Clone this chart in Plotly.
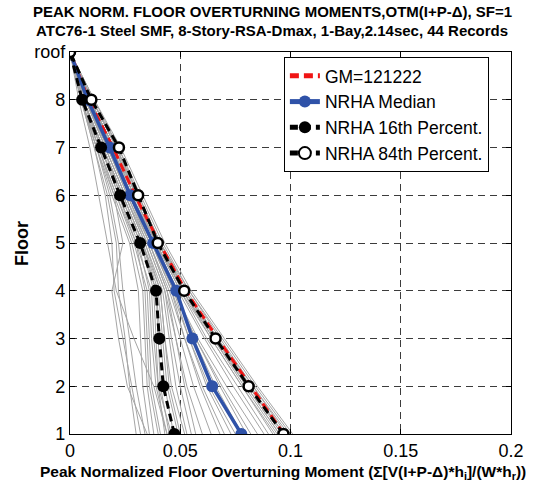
import plotly.graph_objects as go

# Floor levels: 1..8 plus roof (plotted at 9)
floors = [1, 2, 3, 4, 5, 6, 7, 8, 9]
floor_labels = ["1", "2", "3", "4", "5", "6", "7", "8", "roof"]

# Summary curves (floor 1 -> roof)
gm_121222 = [0.097, 0.082, 0.067, 0.0525, 0.0405, 0.0295, 0.0195, 0.0085, 0.0]
nrha_median = [0.0777, 0.0645, 0.0555, 0.0482, 0.0377, 0.0273, 0.0180, 0.0080, 0.0]
nrha_p16 = [0.0473, 0.0423, 0.0405, 0.0390, 0.0318, 0.0227, 0.0141, 0.0055, 0.0]
nrha_p84 = [0.0968, 0.0810, 0.0660, 0.0518, 0.0398, 0.0309, 0.0222, 0.0097, 0.0]

# Individual record curves (floor 1 -> floor 8; roof is zero)
rec01 = [0.097, 0.082, 0.067, 0.052, 0.040, 0.030, 0.020, 0.009]
rec02 = [0.100, 0.084, 0.069, 0.054, 0.041, 0.031, 0.021, 0.010]
rec03 = [0.095, 0.080, 0.065, 0.051, 0.040, 0.030, 0.021, 0.010]
rec04 = [0.098, 0.083, 0.068, 0.054, 0.042, 0.032, 0.022, 0.011]
rec05 = [0.093, 0.078, 0.064, 0.050, 0.039, 0.029, 0.019, 0.009]
rec06 = [0.101, 0.085, 0.070, 0.055, 0.043, 0.033, 0.023, 0.011]
rec07 = [0.096, 0.081, 0.066, 0.052, 0.041, 0.031, 0.022, 0.010]
rec08 = [0.094, 0.079, 0.065, 0.051, 0.040, 0.030, 0.020, 0.009]
rec09 = [0.099, 0.083, 0.067, 0.053, 0.041, 0.030, 0.020, 0.009]
rec10 = [0.092, 0.078, 0.064, 0.051, 0.040, 0.030, 0.021, 0.010]
rec11 = [0.097, 0.081, 0.066, 0.051, 0.039, 0.029, 0.020, 0.009]
rec12 = [0.095, 0.080, 0.066, 0.052, 0.041, 0.031, 0.021, 0.010]
rec13 = [0.090, 0.076, 0.062, 0.050, 0.039, 0.029, 0.019, 0.009]
rec14 = [0.088, 0.074, 0.061, 0.049, 0.038, 0.028, 0.019, 0.009]
rec15 = [0.075, 0.063, 0.054, 0.046, 0.037, 0.027, 0.017, 0.008]
rec16 = [0.073, 0.062, 0.054, 0.047, 0.038, 0.028, 0.018, 0.008]
rec17 = [0.070, 0.060, 0.052, 0.045, 0.036, 0.026, 0.017, 0.007]
rec18 = [0.068, 0.059, 0.052, 0.046, 0.037, 0.027, 0.017, 0.008]
rec19 = [0.085, 0.071, 0.058, 0.047, 0.037, 0.027, 0.018, 0.008]
rec20 = [0.064, 0.056, 0.050, 0.044, 0.036, 0.027, 0.017, 0.007]
rec21 = [0.082, 0.069, 0.057, 0.047, 0.038, 0.028, 0.018, 0.008]
rec22 = [0.060, 0.053, 0.048, 0.043, 0.035, 0.025, 0.016, 0.007]
rec23 = [0.078, 0.066, 0.056, 0.048, 0.039, 0.028, 0.018, 0.008]
rec24 = [0.057, 0.052, 0.048, 0.044, 0.036, 0.027, 0.017, 0.008]
rec25 = [0.080, 0.068, 0.057, 0.047, 0.038, 0.028, 0.018, 0.008]
rec26 = [0.055, 0.050, 0.046, 0.043, 0.035, 0.026, 0.017, 0.007]
rec27 = [0.053, 0.048, 0.045, 0.042, 0.034, 0.025, 0.016, 0.007]
rec28 = [0.052, 0.046, 0.043, 0.041, 0.033, 0.024, 0.015, 0.006]
rec29 = [0.050, 0.045, 0.043, 0.041, 0.034, 0.025, 0.016, 0.007]
rec30 = [0.049, 0.044, 0.042, 0.040, 0.033, 0.024, 0.015, 0.006]
rec31 = [0.047, 0.043, 0.041, 0.039, 0.032, 0.023, 0.014, 0.006]
rec32 = [0.046, 0.040, 0.039, 0.038, 0.032, 0.023, 0.015, 0.006]
rec33 = [0.045, 0.041, 0.040, 0.039, 0.033, 0.024, 0.015, 0.006]
rec34 = [0.044, 0.039, 0.037, 0.036, 0.031, 0.022, 0.014, 0.006]
rec35 = [0.043, 0.040, 0.038, 0.037, 0.030, 0.021, 0.013, 0.005]
rec36 = [0.041, 0.037, 0.036, 0.035, 0.029, 0.021, 0.013, 0.005]
rec37 = [0.040, 0.036, 0.035, 0.034, 0.030, 0.022, 0.014, 0.006]
rec38 = [0.038, 0.035, 0.034, 0.033, 0.028, 0.020, 0.012, 0.005]
rec39 = [0.036, 0.033, 0.032, 0.031, 0.027, 0.019, 0.012, 0.005]
rec40 = [0.034, 0.030, 0.027, 0.024, 0.022, 0.018, 0.012, 0.005]
rec41 = [0.032, 0.028, 0.024, 0.020, 0.019, 0.016, 0.011, 0.005]
rec42 = [0.030, 0.027, 0.025, 0.022, 0.021, 0.017, 0.011, 0.005]
rec43 = [0.035, 0.026, 0.022, 0.019, 0.024, 0.020, 0.013, 0.006]
rec44 = [0.044, 0.038, 0.029, 0.021, 0.017, 0.013, 0.009, 0.004]

records = [rec01, rec02, rec03, rec04, rec05, rec06, rec07, rec08, rec09, rec10,
           rec11, rec12, rec13, rec14, rec15, rec16, rec17, rec18, rec19, rec20,
           rec21, rec22, rec23, rec24, rec25, rec26, rec27, rec28, rec29, rec30,
           rec31, rec32, rec33, rec34, rec35, rec36, rec37, rec38, rec39, rec40,
           rec41, rec42, rec43, rec44]

x_ticks = [0, 0.05, 0.1, 0.15, 0.2]
x_tick_labels = ["0", "0.05", "0.1", "0.15", "0.2"]

title_line1 = "PEAK NORM. FLOOR OVERTURNING MOMENTS,OTM(I+P-Δ), SF=1"
title_line2 = "ATC76-1 Steel SMF, 8-Story-RSA-Dmax, 1-Bay,2.14sec, 44 Records"
x_title = "Peak Normalized Floor Overturning Moment (Σ[V(I+P-Δ)*h<sub>i</sub>]/(W*h<sub>r</sub>))"
y_title = "Floor"

FONT = "Liberation Sans, Arial, sans-serif"

fig = go.Figure()

for rec in records:
    fig.add_trace(go.Scatter(
        x=rec + [0.0], y=floors, mode="lines",
        line=dict(color="rgb(165,165,165)", width=1),
        showlegend=False, hoverinfo="skip"))

fig.add_trace(go.Scatter(
    x=gm_121222, y=floors, mode="lines", name="GM=121222",
    line=dict(color="rgb(240,20,20)", width=3, dash="9px,5px")))

fig.add_trace(go.Scatter(
    x=nrha_median, y=floors, mode="lines+markers", name="NRHA Median",
    line=dict(color="rgb(47,82,168)", width=3.5),
    marker=dict(color="rgb(47,82,168)", size=12, symbol="circle")))

fig.add_trace(go.Scatter(
    x=nrha_p16, y=floors, mode="lines+markers", name="NRHA 16th Percent.",
    line=dict(color="black", width=3, dash="8px,5px"),
    marker=dict(color="black", size=12, symbol="circle")))

fig.add_trace(go.Scatter(
    x=nrha_p84, y=floors, mode="lines+markers", name="NRHA 84th Percent.",
    line=dict(color="black", width=3, dash="8px,5px"),
    marker=dict(color="white", size=10, symbol="circle",
                line=dict(color="black", width=2.5))))

axis_common = dict(
    showline=True, linecolor="black", linewidth=1.2, mirror="ticks",
    ticks="inside", ticklen=5, tickcolor="black",
    showgrid=True, gridcolor="rgb(60,60,60)", gridwidth=1, griddash="7px,5px",
    zeroline=False, tickfont=dict(family=FONT, size=18, color="black"),
)

fig.update_xaxes(range=[0, 0.2], tickvals=x_ticks, ticktext=x_tick_labels, **axis_common)
fig.update_yaxes(range=[1, 9], tickvals=floors, ticktext=floor_labels, **axis_common)

# Titles placed as annotations (paper coordinates of the 441x382 plot area)
fig.add_annotation(text=f"<b>{title_line1}</b>", xref="paper", yref="paper",
                   x=0.459, y=1.105, xanchor="center", yanchor="middle", showarrow=False,
                   font=dict(family=FONT, size=15, color="black"))
fig.add_annotation(text=f"<b>{title_line2}</b>", xref="paper", yref="paper",
                   x=0.459, y=1.055, xanchor="center", yanchor="middle", showarrow=False,
                   font=dict(family=FONT, size=15, color="black"))
fig.add_annotation(text=f"<b>{x_title}</b>", xref="paper", yref="paper",
                   x=0.483, y=-0.1, xanchor="center", yanchor="middle", showarrow=False,
                   font=dict(family=FONT, size=15.5, color="black"))
fig.add_annotation(text=f"<b>{y_title}</b>", xref="paper", yref="paper",
                   x=-0.109, y=0.5, xanchor="center", yanchor="middle", showarrow=False,
                   textangle=-90, font=dict(family=FONT, size=18, color="black"))

fig.update_layout(
    width=545, height=483,
    margin=dict(l=70, r=34, t=52, b=49),
    paper_bgcolor="white", plot_bgcolor="white",
    legend=dict(
        x=0.485, y=0.987, xanchor="left", yanchor="top",
        bgcolor="white", bordercolor="black", borderwidth=1,
        font=dict(family=FONT, size=17.5, color="black"),
        tracegroupgap=0, itemsizing="constant"),
    showlegend=True,
)

fig.write_html("out.html")
